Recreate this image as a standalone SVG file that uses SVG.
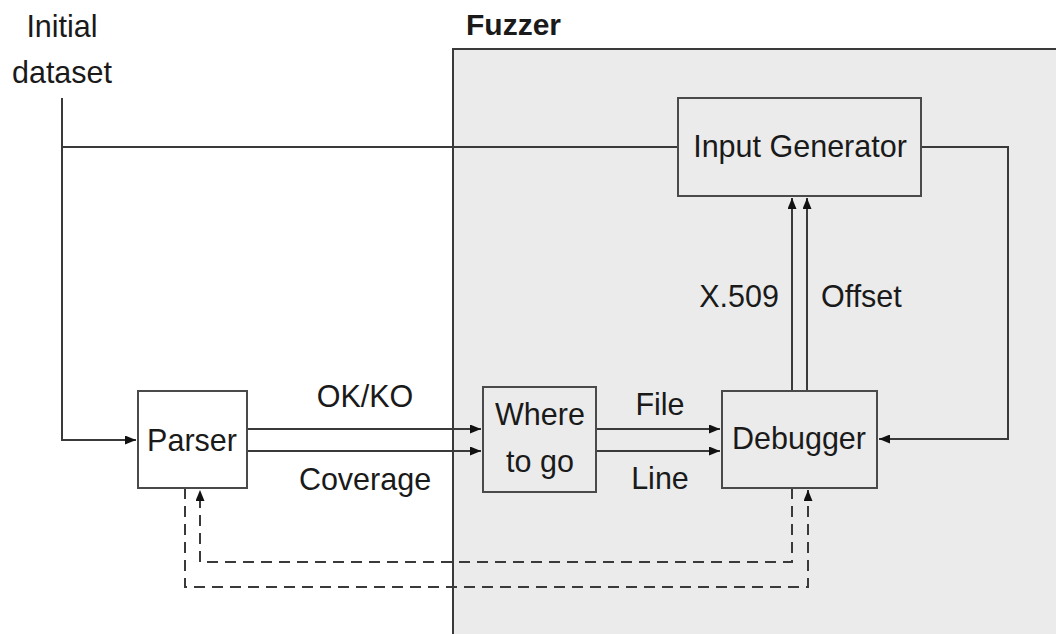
<svg xmlns="http://www.w3.org/2000/svg" width="1056" height="634" viewBox="0 0 1056 634">
<style>
text{font-family:"Liberation Sans",Arial,sans-serif;font-size:30.5px;fill:#1a1a1a}
.box{fill:none;stroke:#4a4a4a;stroke-width:2}
.ln{fill:none;stroke:#3a3a3a;stroke-width:2}
.ds{fill:none;stroke:#3a3a3a;stroke-width:2;stroke-dasharray:11,7}
.c{text-anchor:middle}
</style>
<defs>
<marker id="ah" viewBox="0 0 11 9" refX="11" refY="4.5" markerWidth="11" markerHeight="9" markerUnits="userSpaceOnUse" orient="auto">
<path d="M0,0 L11,4.5 L0,9 Z" fill="#111"/>
</marker>
</defs>
<g id="fuzzer">
<rect x="453" y="49" width="610" height="600" fill="#ebebeb" stroke="#3a3a3a" stroke-width="2"/>
<text x="466" y="35" style="font-weight:bold;font-size:30px">Fuzzer</text>
</g>
<g id="initial-dataset">
<text x="62" y="37" class="c">Initial</text>
<text x="62" y="83" class="c">dataset</text>
</g>
<g id="connectors">
<path class="ln" d="M62,98 V440 H136" marker-end="url(#ah)"/>
<path class="ln" d="M62,147 H678"/>
<path class="ln" d="M921,147 H1008 V439 H879" marker-end="url(#ah)"/>
<path class="ln" d="M247,429 H481" marker-end="url(#ah)"/>
<path class="ln" d="M247,451 H481" marker-end="url(#ah)"/>
<path class="ln" d="M596,429 H720" marker-end="url(#ah)"/>
<path class="ln" d="M596,451 H720" marker-end="url(#ah)"/>
<path class="ln" d="M792,391 V198" marker-end="url(#ah)"/>
<path class="ln" d="M807,391 V198" marker-end="url(#ah)"/>
<path class="ds" d="M792,488 V562 H200 V490" marker-end="url(#ah)"/>
<path class="ds" d="M185,488 V587 H808 V490" marker-end="url(#ah)"/>
</g>
<g id="labels">
<text x="365" y="407" class="c">OK/KO</text>
<text x="365" y="490" class="c">Coverage</text>
<text x="660" y="415" class="c">File</text>
<text x="660" y="489" class="c">Line</text>
<text x="779" y="307" text-anchor="end">X.509</text>
<text x="821" y="307">Offset</text>
</g>
<g id="input-generator">
<rect class="box" x="678" y="98" width="243" height="98" fill="#ebebeb"/>
<text x="800" y="157" class="c">Input Generator</text>
</g>
<g id="parser">
<rect class="box" x="138" y="391" width="109" height="97" style="fill:#fff"/>
<text x="192" y="451" class="c">Parser</text>
</g>
<g id="where-to-go">
<rect class="box" x="483" y="387" width="113" height="105"/>
<text x="540" y="425" class="c">Where</text>
<text x="540" y="472" class="c">to go</text>
</g>
<g id="debugger">
<rect class="box" x="722" y="391" width="155" height="97"/>
<text x="799" y="449" class="c">Debugger</text>
</g>
</svg>
